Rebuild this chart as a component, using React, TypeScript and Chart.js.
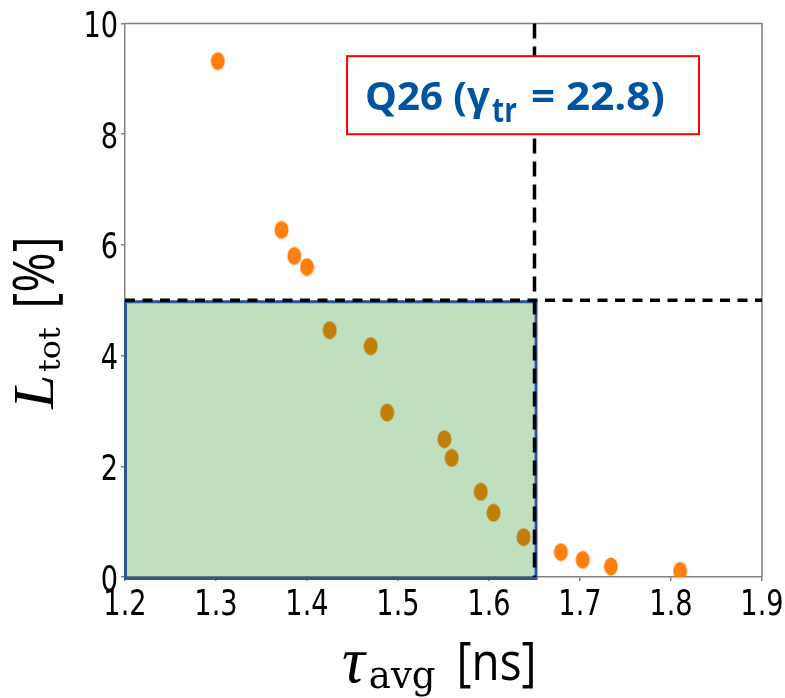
import React, { useEffect, useRef } from 'react';
import { Chart, registerables } from 'chart.js';

Chart.register(...registerables);

// ---- data ----
const tauAvg = [1.302, 1.372, 1.386, 1.4, 1.425, 1.47, 1.488, 1.551, 1.559, 1.591, 1.605, 1.638, 1.679, 1.703, 1.734, 1.81];
const lossTot = [9.32, 6.27, 5.8, 5.6, 4.46, 4.17, 2.97, 2.49, 2.15, 1.54, 1.16, 0.72, 0.45, 0.31, 0.19, 0.11];
const xRange = [1.2, 1.9];
const yRange = [0, 10];
const xStep = 0.1;
const yStep = 2;
const tauLimit = 1.65;
const lossLimit = 5;
const boxMain = 'Q26 (γ';
const boxSub = 'tr';
const boxTail = ' = 22.8)';

const W = 785;
const H = 698;

function fitText(
  ctx: CanvasRenderingContext2D,
  text: string,
  font: string,
  left: number,
  right: number,
  top: number,
  bottom: number,
  ref?: string
) {
  ctx.font = font;
  const m = ctx.measureText(text);
  const inkW = m.actualBoundingBoxLeft + m.actualBoundingBoxRight;
  let asc: number;
  let desc: number;
  if (ref) {
    const r = ctx.measureText(ref);
    asc = r.actualBoundingBoxAscent;
    desc = 0;
  } else {
    asc = m.actualBoundingBoxAscent;
    desc = m.actualBoundingBoxDescent;
  }
  const sx = (right - left) / inkW;
  const sy = (bottom - top) / (asc + desc);
  ctx.save();
  ctx.translate(left, top);
  ctx.scale(sx, sy);
  ctx.textAlign = 'left';
  ctx.textBaseline = 'alphabetic';
  ctx.fillText(text, m.actualBoundingBoxLeft, asc);
  ctx.restore();
}

// tick label: condensed DejaVu Sans, digit height h, horizontal squeeze sx
function tickText(
  ctx: CanvasRenderingContext2D,
  text: string,
  anchorX: number,
  align: 'right' | 'center',
  top: number,
  h: number,
  sx: number
) {
  ctx.font = '40px "DejaVu Sans", sans-serif';
  const d = ctx.measureText('0');
  const asc = d.actualBoundingBoxAscent;
  const sy = h / asc;
  const w = ctx.measureText(text).width * sx;
  const left = align === 'right' ? anchorX - w : anchorX - w / 2;
  ctx.save();
  ctx.translate(left, top);
  ctx.scale(sx, sy);
  ctx.textAlign = 'left';
  ctx.textBaseline = 'alphabetic';
  ctx.fillText(text, 0, asc);
  ctx.restore();
}

function makeDot(): HTMLCanvasElement {
  const c = document.createElement('canvas');
  c.width = 15;
  c.height = 19;
  const g = c.getContext('2d')!;
  g.fillStyle = '#ff7f0e';
  g.beginPath();
  g.ellipse(7.5, 9.5, 7, 9, 0, 0, Math.PI * 2);
  g.fill();
  return c;
}

const overlayPlugin = {
  id: 'overlay',
  afterDatasetsDraw(chart: any) {
    const ctx: CanvasRenderingContext2D = chart.ctx;
    const xs = chart.scales.x;
    const ys = chart.scales.y;
    const area = chart.chartArea;

    // green acceptance region
    const x0 = xs.getPixelForValue(xRange[0]);
    const x1 = xs.getPixelForValue(tauLimit);
    const y0 = ys.getPixelForValue(lossLimit);
    const y1 = ys.getPixelForValue(yRange[0]);
    ctx.save();
    ctx.fillStyle = 'rgba(0,128,0,0.25)';
    ctx.fillRect(x0, y0, x1 - x0, y1 - y0);
    ctx.strokeStyle = '#2f5597';
    ctx.lineWidth = 3;
    ctx.strokeRect(x0 + 0.5, y0 + 1.5, x1 - x0 + 1, y1 - y0);

    // top and right spines
    ctx.strokeStyle = '#808080';
    ctx.lineWidth = 1.5;
    ctx.beginPath();
    ctx.moveTo(area.left, area.top);
    ctx.lineTo(area.right, area.top);
    ctx.lineTo(area.right, area.bottom);
    ctx.stroke();

    // dashed limits
    ctx.strokeStyle = '#000';
    ctx.lineWidth = 3.5;
    ctx.setLineDash([10, 7.5]);
    ctx.beginPath();
    ctx.moveTo(area.left, y0);
    ctx.lineTo(area.right, y0);
    ctx.stroke();
    ctx.setLineDash([15, 8]);
    ctx.beginPath();
    ctx.moveTo(x1, area.top);
    ctx.lineTo(x1, area.bottom);
    ctx.stroke();
    ctx.setLineDash([]);

    // label box
    const bl = xs.getPixelForValue(1.444);
    const br = xs.getPixelForValue(1.8308);
    const bt = ys.getPixelForValue(9.41);
    const bb = ys.getPixelForValue(8.0);
    ctx.fillStyle = '#fff';
    ctx.fillRect(bl, bt, br - bl, bb - bt);
    ctx.strokeStyle = '#ff0000';
    ctx.lineWidth = 2;
    ctx.strokeRect(bl, bt, br - bl, bb - bt);
    ctx.fillStyle = '#00549f';
    const bf = 'bold 40px "Open Sans", Lato, sans-serif';
    fitText(ctx, boxMain, bf, bl + 20, bl + 143, bt + 26, bt + 54, '26');
    fitText(ctx, boxSub, 'bold 26px "Open Sans", Lato, sans-serif', bl + 145, bl + 170, bt + 43, bt + 66, 't');
    fitText(ctx, boxTail, bf, bl + 185, bl + 316, bt + 26, bt + 54, '22');
    ctx.restore();
  },
  afterDraw(chart: any) {
    const ctx: CanvasRenderingContext2D = chart.ctx;
    const xs = chart.scales.x;
    const ys = chart.scales.y;
    const area = chart.chartArea;
    ctx.save();
    ctx.fillStyle = '#000';
    // tick labels from the library's ticks
    for (const t of ys.ticks) {
      const py = ys.getPixelForValue(t.value);
      tickText(ctx, String(t.value), area.left - 7, 'right', py - 13.5, 27, 0.68);
    }
    for (const t of xs.ticks) {
      const px = xs.getPixelForValue(t.value);
      tickText(ctx, Number(t.value).toFixed(1), px, 'center', area.bottom + 10, 28, 0.68);
    }
    // x-axis title: tau_avg [ns]
    fitText(ctx, 'τ', 'italic 44px "Liberation Serif", serif', 342, 368, 652, 682);
    fitText(ctx, 'avg', '32px "DejaVu Serif", serif', 370, 435, 667, 688, 'av');
    fitText(ctx, '[ns]', '40px "Open Sans", sans-serif', 460, 533, 642, 688);
    // y-axis title: L_tot [%] (rotated)
    ctx.rotate(-Math.PI / 2);
    fitText(ctx, 'L', 'italic 52px "Liberation Serif", serif', -410, -377, 15, 53, 'L');
    fitText(ctx, 'tot', '32px "DejaVu Serif", serif', -372, -327, 40, 60, 'tot');
    fitText(ctx, '[%]', '40px "Open Sans", sans-serif', -305, -240, 13, 62);
    ctx.restore();
  },
};

export default function App() {
  const ref = useRef<HTMLCanvasElement | null>(null);

  useEffect(() => {
    if (!ref.current) return;
    const dot = makeDot();
    const chart = new Chart(ref.current, {
      type: 'scatter',
      data: {
        datasets: [
          {
            data: tauAvg.map((x, i) => ({ x, y: lossTot[i] })),
            pointStyle: dot as any,
            pointRadius: 9,
            backgroundColor: '#ff7f0e',
            borderWidth: 0,
            clip: 0 as any,
          },
        ],
      },
      options: {
        animation: false,
        responsive: false,
        events: [],
        layout: { padding: { left: 0, top: 23.5, right: 23, bottom: 0 } },
        plugins: { legend: { display: false }, tooltip: { enabled: false } },
        scales: {
          x: {
            type: 'linear',
            min: xRange[0],
            max: xRange[1],
            afterFit: (s: any) => {
              s.height = H - 577;
              s.paddingLeft = 0;
              s.paddingRight = 0;
            },
            ticks: { stepSize: xStep, display: false },
            grid: { drawOnChartArea: false, drawTicks: true, tickLength: 4, color: '#808080', lineWidth: 1.5 },
            border: { color: '#808080', width: 1.5 },
          },
          y: {
            type: 'linear',
            min: yRange[0],
            max: yRange[1],
            afterFit: (s: any) => {
              s.width = 125;
              s.paddingTop = 0;
              s.paddingBottom = 0;
            },
            ticks: { stepSize: yStep, display: false },
            grid: { drawOnChartArea: false, drawTicks: true, tickLength: 4, color: '#808080', lineWidth: 1.5 },
            border: { color: '#808080', width: 1.5 },
          },
        },
      },
      plugins: [overlayPlugin],
    });
    return () => chart.destroy();
  }, []);

  return (
    <div style={{ position: 'absolute', left: 0, top: 0, width: W, height: H, background: '#fff' }}>
      <canvas ref={ref} width={W} height={H} style={{ width: W, height: H, display: 'block' }} />
    </div>
  );
}
